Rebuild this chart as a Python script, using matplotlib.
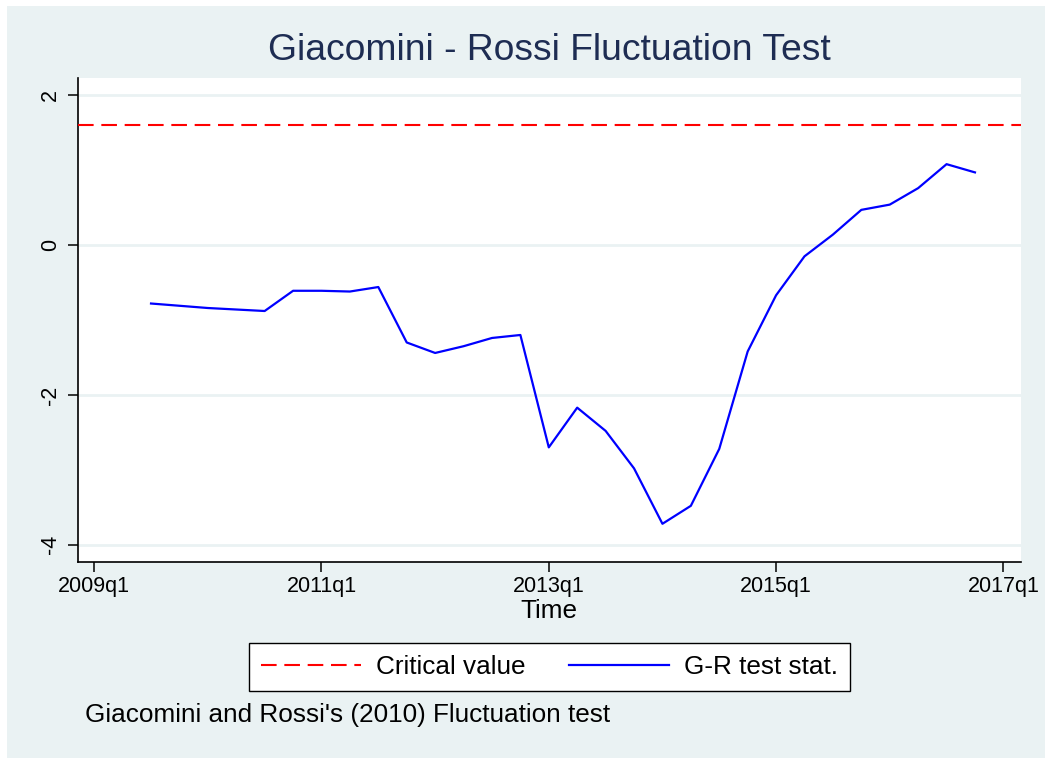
import numpy as np
import matplotlib.pyplot as plt
from matplotlib.patches import Rectangle

# quarterly G-R statistic, 2009q3 .. 2016q4
start_quarter = 2  # quarters after 2009q1
gr_stat = [-0.78, -0.81, -0.84, -0.86, -0.88, -0.61, -0.61, -0.62, -0.56, -1.30,
           -1.44, -1.35, -1.24, -1.20, -2.70, -2.17, -2.48, -2.98, -3.72, -3.48,
           -2.72, -1.42, -0.67, -0.15, 0.14, 0.47, 0.54, 0.76, 1.08, 0.97]
critical_value = 1.6
x_ticks = [0, 8, 16, 24, 32]
x_tick_labels = ["2009q1", "2011q1", "2013q1", "2015q1", "2017q1"]
y_ticks = [-4, -2, 0, 2]

plt.rcParams['font.family'] = ['Liberation Sans', 'DejaVu Sans']

W, H = 1045, 758
fig = plt.figure(figsize=(W / 100, H / 100), dpi=100, facecolor='white')
bg = '#EAF2F3'
fig.patches.append(Rectangle((7 / W, 0), 1 - 7 / W, 1 - 6 / H,
                             transform=fig.transFigure, facecolor=bg,
                             edgecolor='none', zorder=-10))

ax = fig.add_axes([78 / W, 1 - 562 / H, (1021 - 78) / W, (562 - 78) / H])
ax.set_facecolor('white')

quarters = np.arange(start_quarter, start_quarter + len(gr_stat))
ax.axhline(critical_value, color='red', lw=1.5, dashes=(7.5, 3.7),
           label='Critical value', zorder=3)
ax.plot(quarters, gr_stat, color='blue', lw=1.6, label='G-R test stat.', zorder=4)

ax.set_xlim(-0.57, 32.62)
ax.set_ylim(-4.23, 2.23)
ax.set_xticks(x_ticks)
ax.set_xticklabels(x_tick_labels)
ax.set_yticks(y_ticks)
ax.set_yticklabels([str(v) for v in y_ticks], rotation=90, va='center')
for y in y_ticks:
    ax.axhline(y, color=bg, lw=2, zorder=1)

for s in ['top', 'right']:
    ax.spines[s].set_visible(False)
for s in ['left', 'bottom']:
    ax.spines[s].set_linewidth(1.2)
ax.tick_params(axis='both', length=7, width=1.1, labelsize=15.5)
ax.tick_params(axis='x', pad=3)
ax.tick_params(axis='y', pad=5)

fig.text(549 / W, 1 - 50 / H, "Giacomini - Rossi Fluctuation Test",
         fontsize=26.8, color='#1E2D53', ha='center', va='center')
fig.text(549 / W, 1 - 611 / H, "Time", fontsize=18.8, ha='center', va='center')
fig.text(85 / W, 1 - 715 / H, "Giacomini and Rossi's (2010) Fluctuation test",
         fontsize=18.8, ha='left', va='center')

leg = fig.legend(loc='center', bbox_to_anchor=(549.5 / W, 1 - 667 / H), ncol=2,
                 fontsize=18.8, frameon=True, fancybox=False, framealpha=1,
                 handlelength=3.85, handletextpad=0.58, columnspacing=1.65,
                 borderpad=0.45)
leg.get_frame().set_edgecolor('black')
leg.get_frame().set_linewidth(1.0)
leg.get_frame().set_facecolor('white')

fig.savefig('out.png', dpi=100, facecolor=fig.get_facecolor())
